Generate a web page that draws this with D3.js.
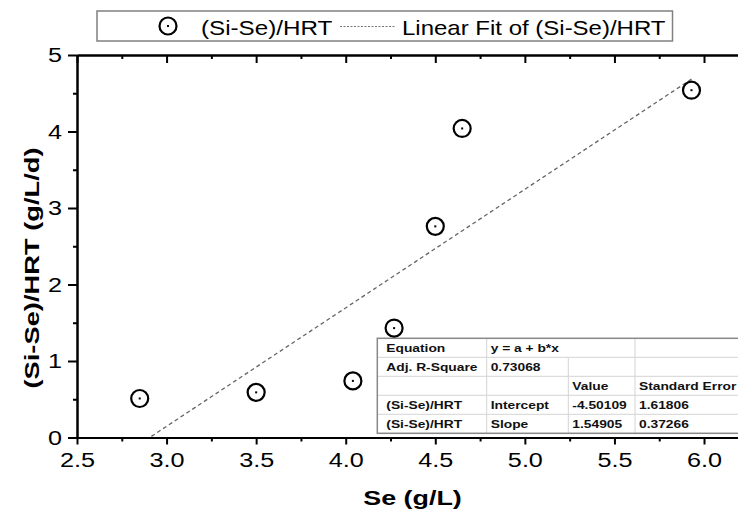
<!DOCTYPE html>
<html>
<head>
<meta charset="utf-8">
<script src="https://cdn.jsdelivr.net/npm/d3@7"></script>
<style>
  body { margin: 0; background: #fff; }
  svg { display: block; font-family: "Liberation Sans", Arial, sans-serif; }
</style>
</head>
<body>
<svg id="chart"></svg>
<script>
// data
const se = [2.85, 3.50, 4.04, 4.27, 4.50, 4.65, 5.93];
const rate = [0.51, 0.59, 0.74, 1.43, 2.76, 4.04, 4.54];
const fitA = -4.50109;
const fitB = 1.54905;
const xMajor = [2.5, 3.0, 3.5, 4.0, 4.5, 5.0, 5.5, 6.0];
const xMinor = [2.75, 3.25, 3.75, 4.25, 4.75, 5.25, 5.75];
const yMajor = [0, 1, 2, 3, 4, 5];
const yMinor = [0.5, 1.5, 2.5, 3.5, 4.5];
const tableRows = [
  ['Equation', 'y = a + b*x', '', ''],
  ['Adj. R-Square', '0.73068', '', ''],
  ['', '', 'Value', 'Standard Error'],
  ['(Si-Se)/HRT', 'Intercept', '-4.50109', '1.61806'],
  ['(Si-Se)/HRT', 'Slope', '1.54905', '0.37266']
];
const seriesName = '(Si-Se)/HRT';
const fitName = 'Linear Fit of (Si-Se)/HRT';

const width = 738;
const height = 514;
const svg = d3.select('#chart').attr('width', width).attr('height', height);

const x = d3.scaleLinear().domain([2.5, 6.25]).range([77, 748.8]);
const y = d3.scaleLinear().domain([0, 5]).range([437.5, 55]);

svg.append('clipPath').attr('id', 'plotclip')
  .append('rect')
  .attr('x', x(2.5)).attr('y', y(5))
  .attr('width', x(6.25) - x(2.5)).attr('height', y(0) - y(5));

// fit line
svg.append('line')
  .attr('clip-path', 'url(#plotclip)')
  .attr('x1', x(d3.min(se))).attr('y1', y(fitA + fitB * d3.min(se)))
  .attr('x2', x(d3.max(se))).attr('y2', y(fitA + fitB * d3.max(se)))
  .attr('stroke', '#666').attr('stroke-width', 1.3)
  .attr('stroke-dasharray', '4,3');

// axes
const styleAxis = (g) => {
  g.selectAll('path.domain').attr('stroke', '#000').attr('stroke-width', 2);
  g.selectAll('.tick line').attr('stroke', '#000').attr('stroke-width', 2);
};

const bottomAxis = svg.append('g').attr('transform', `translate(0,${y(0)})`)
  .call(d3.axisBottom(x).tickValues(xMajor).tickSize(7).tickSizeOuter(0)
    .tickFormat(d3.format('.1f')));
bottomAxis.selectAll('text')
  .attr('y', 29.2).attr('dy', null)
  .attr('font-size', 21).attr('fill', '#000')
  .attr('transform', 'scale(1.2,1)');
styleAxis(bottomAxis);

const bottomMinor = svg.append('g').attr('transform', `translate(0,${y(0)})`)
  .call(d3.axisBottom(x).tickValues(xMinor).tickSize(4).tickSizeOuter(0).tickFormat(''));
styleAxis(bottomMinor);

const topAxis = svg.append('g').attr('transform', `translate(0,${y(5)})`)
  .call(d3.axisTop(x).tickValues(xMajor).tickSize(-8).tickSizeOuter(0).tickFormat(''));
styleAxis(topAxis);
const topMinor = svg.append('g').attr('transform', `translate(0,${y(5)})`)
  .call(d3.axisTop(x).tickValues(xMinor).tickSize(-4).tickSizeOuter(0).tickFormat(''));
styleAxis(topMinor);

const leftAxis = svg.append('g').attr('transform', `translate(${x(2.5)},0)`)
  .call(d3.axisLeft(y).tickValues(yMajor).tickSize(9).tickSizeOuter(0)
    .tickFormat(d3.format('d')));
leftAxis.selectAll('text')
  .attr('x', -15 / 1.2).attr('dy', '0.33em')
  .attr('font-size', 21).attr('fill', '#000')
  .attr('transform', 'scale(1.2,1)');
styleAxis(leftAxis);

const leftMinor = svg.append('g').attr('transform', `translate(${x(2.5)},0)`)
  .call(d3.axisLeft(y).tickValues(yMinor).tickSize(4).tickSizeOuter(0).tickFormat(''));
styleAxis(leftMinor);

// axis titles
svg.append('text')
  .attr('transform', 'translate(412.5,505) scale(1.28,1)')
  .attr('text-anchor', 'middle')
  .attr('font-size', 21).attr('font-weight', 'bold')
  .text('Se (g/L)');

svg.append('text')
  .attr('transform', 'translate(39,268) rotate(-90) scale(1.3,1)')
  .attr('text-anchor', 'middle')
  .attr('font-size', 21).attr('font-weight', 'bold')
  .text('(Si-Se)/HRT (g/L/d)');

// fit table
const colX = [377.3, 486.7, 568.3, 635, 750];
const rowH = 19;
const tableTop = 338.3;
const table = svg.append('g');
table.append('rect')
  .attr('x', colX[0]).attr('y', tableTop)
  .attr('width', colX[4] - colX[0]).attr('height', rowH * tableRows.length)
  .attr('fill', '#fff');

tableRows.forEach((row, i) => {
  const rowTop = tableTop + i * rowH;
  if (i > 0) {
    table.append('line')
      .attr('x1', colX[0]).attr('x2', colX[4])
      .attr('y1', rowTop).attr('y2', rowTop)
      .attr('stroke', '#d4d4d4').attr('stroke-width', 1);
  }
  [1, 2, 3].forEach((c) => {
    if (i === 0 && c === 2) return; // merged equation cell
    table.append('line')
      .attr('x1', colX[c]).attr('x2', colX[c])
      .attr('y1', rowTop).attr('y2', rowTop + rowH)
      .attr('stroke', '#d4d4d4').attr('stroke-width', 1);
  });
  row.forEach((cell, c) => {
    if (!cell) return;
    const tx = colX[c] + (c === 0 ? 9 : 4);
    table.append('text')
      .attr('transform', `translate(${tx},${rowTop + 14}) scale(1.2,1)`)
      .attr('font-size', 11.5).attr('font-weight', 'bold')
      .attr('fill', '#111')
      .text(cell);
  });
});
table.append('rect')
  .attr('x', colX[0]).attr('y', tableTop)
  .attr('width', colX[4] - colX[0]).attr('height', rowH * tableRows.length)
  .attr('fill', 'none').attr('stroke', '#888').attr('stroke-width', 1.5);

// data points
const drawSymbol = (g) => {
  g.append('circle').attr('r', 8.5)
    .attr('fill', '#fff').attr('stroke', '#000').attr('stroke-width', 2.2);
  g.append('rect').attr('x', -1).attr('y', -1).attr('width', 2).attr('height', 2)
    .attr('fill', '#000');
};

svg.selectAll('g.pt')
  .data(se.map((d, i) => [d, rate[i]]))
  .enter()
  .append('g')
  .attr('class', 'pt')
  .attr('transform', (d) => `translate(${x(d[0])},${y(d[1])})`)
  .each(function () { drawSymbol(d3.select(this)); });

// legend
const legend = svg.append('g');
legend.append('rect')
  .attr('x', 97).attr('y', 11).attr('width', 575.5).attr('height', 30)
  .attr('fill', '#fff').attr('stroke', '#808080').attr('stroke-width', 1.5);
drawSymbol(legend.append('g').attr('transform', 'translate(168,26)'));
legend.append('text')
  .attr('transform', 'translate(201,35) scale(1.21,1)')
  .attr('font-size', 20)
  .text(seriesName);
legend.append('line')
  .attr('x1', 340).attr('x2', 395).attr('y1', 26.5).attr('y2', 26.5)
  .attr('stroke', '#777').attr('stroke-width', 1)
  .attr('stroke-dasharray', '2,1.5');
legend.append('text')
  .attr('transform', 'translate(402,35) scale(1.2,1)')
  .attr('font-size', 20)
  .text(fitName);
</script>
</body>
</html>
